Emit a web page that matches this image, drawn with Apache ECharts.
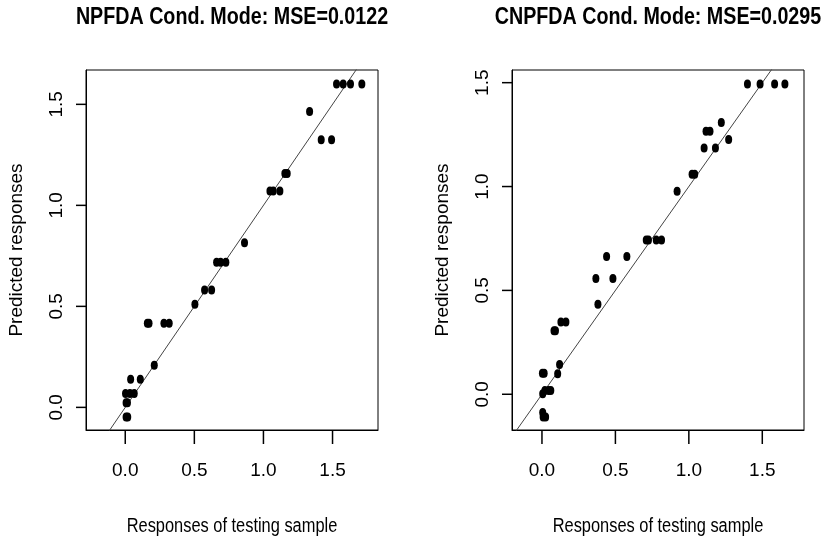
<!DOCTYPE html>
<html>
<head>
<meta charset="utf-8">
<script src="https://cdn.jsdelivr.net/npm/echarts@6/dist/echarts.min.js"></script>
<style>
html,body{margin:0;padding:0;background:#fff;}
#chart{width:827px;height:543px;background:#fff;}
</style>
</head>
<body>
<div id="chart"></div>
<script>
// ---- data ----
const titles = ['NPFDA Cond. Mode: MSE=0.0122', 'CNPFDA Cond. Mode: MSE=0.0295'];
const xAxisName = 'Responses of testing sample';
const yAxisName = 'Predicted responses';
const tickValues = [0, 0.5, 1.0, 1.5];

// NPFDA: observed (x) vs predicted (y)
const npfdaObserved = [1.529,1.577,1.630,1.712,1.334,1.418,1.493,1.155,1.172,1.047,1.071,1.119,0.863,0.661,0.690,0.728,0.574,0.625,0.504,0.160,0.172,0.280,0.318,0.210,0.039,0.109,0.002,0.034,0.065,0.006,0.016,0.006,0.018];
const npfdaPredicted = [1.601,1.601,1.601,1.601,1.464,1.325,1.325,1.158,1.158,1.071,1.071,1.071,0.815,0.718,0.718,0.718,0.581,0.581,0.510,0.416,0.416,0.416,0.416,0.208,0.139,0.139,0.069,0.069,0.069,0.023,0.023,-0.048,-0.048];

// CNPFDA: observed (x) vs predicted (y)
const cnpfdaObserved = [1.399,1.485,1.584,1.654,1.221,1.117,1.144,1.271,1.104,1.181,1.022,1.040,0.920,0.710,0.725,0.778,0.814,0.440,0.578,0.367,0.483,0.381,0.082,0.092,0.129,0.163,0.120,0.107,0.003,0.015,0.005,0.020,0.045,0.060,0.005,0.008,0.025];
const cnpfdaPredicted = [1.494,1.494,1.494,1.494,1.308,1.266,1.266,1.227,1.186,1.186,1.059,1.059,0.977,0.743,0.743,0.743,0.743,0.663,0.663,0.557,0.557,0.433,0.306,0.306,0.348,0.348,0.143,0.099,0.101,0.101,0.003,0.018,0.018,0.018,-0.088,-0.110,-0.110];

// identity reference line y = x
const identityLine = [[-1, -1], [3, 3]];

// axis ranges
const xRanges = [[-0.284, 1.829], [-0.204, 1.784]];
const yRanges = [[-0.112, 1.670], [-0.172, 1.561]];

// ---- chart ----
const regular = "'Liberation Sans', Arial, sans-serif";
const gridLefts = [86, 512];
const plotW = 292, plotH = 360, plotTop = 70;
const narrowScale = 0.82;
const xTickLen = 14, yTickLen = 10;

function pairs(xs, ys) { return xs.map((x, i) => [x, ys[i]]); }

const grids = [], xAxes = [], yAxes = [], series = [], graphics = [];
[0, 1].forEach(i => {
  const cx = gridLefts[i] + plotW / 2;
  grids.push({left: gridLefts[i], top: plotTop, width: plotW, height: plotH,
    show: true, borderColor: '#000', borderWidth: 1});
  graphics.push({type: 'text', x: cx, y: 5, scaleX: narrowScale,
    style: {text: titles[i], fontFamily: regular, fontWeight: 'bold', fontSize: 24, fill: '#000',
      textAlign: 'center', textVerticalAlign: 'top'}});
  graphics.push({type: 'text', x: cx, y: plotTop + plotH + 86, scaleX: narrowScale,
    style: {text: xAxisName, fontFamily: regular, fontSize: 20, fill: '#000',
      textAlign: 'center', textVerticalAlign: 'top'}});
  xAxes.push({type: 'value', gridIndex: i, min: xRanges[i][0], max: xRanges[i][1],
    axisLine: {show: true, onZero: false, lineStyle: {color: '#000', width: 1}},
    axisTick: {show: false},
    axisLabel: {customValues: tickValues, margin: 31, fontFamily: regular, fontSize: 19, color: '#000',
      formatter: v => v.toFixed(1)},
    splitLine: {show: false}});
  yAxes.push({type: 'value', gridIndex: i, min: yRanges[i][0], max: yRanges[i][1],
    name: yAxisName, nameLocation: 'middle', nameRotate: 90, nameGap: 60,
    nameTextStyle: {fontFamily: regular, fontSize: 19, color: '#000'},
    axisLine: {show: true, onZero: false, lineStyle: {color: '#000', width: 1}},
    axisTick: {show: false},
    axisLabel: {customValues: tickValues, rotate: 90, margin: 20, fontFamily: regular, fontSize: 19, color: '#000',
      formatter: v => v.toFixed(1)},
    splitLine: {show: false}});
  series.push({type: 'line', xAxisIndex: i, yAxisIndex: i, data: identityLine, symbol: 'none',
    clip: true, lineStyle: {color: '#444', width: 1}, z: 1});
  // R-style outside ticks, positioned through the axes' scales
  series.push({type: 'custom', xAxisIndex: i, yAxisIndex: i, clip: false, z: 30,
    data: tickValues.map(v => [v, yRanges[i][0]]), encode: {x: 0, y: 1},
    renderItem: (params, api) => {
      const p = api.coord([api.value(0), api.value(1)]);
      return {type: 'line', shape: {x1: p[0], y1: p[1], x2: p[0], y2: p[1] + xTickLen},
        style: {stroke: '#000', lineWidth: 1.5}};
    }});
  series.push({type: 'custom', xAxisIndex: i, yAxisIndex: i, clip: false, z: 30,
    data: tickValues.map(v => [xRanges[i][0], v]), encode: {x: 0, y: 1},
    renderItem: (params, api) => {
      const p = api.coord([api.value(0), api.value(1)]);
      return {type: 'line', shape: {x1: p[0], y1: p[1], x2: p[0] - yTickLen, y2: p[1]},
        style: {stroke: '#000', lineWidth: 1.5}};
    }});
});
series.push({type: 'scatter', xAxisIndex: 0, yAxisIndex: 0, data: pairs(npfdaObserved, npfdaPredicted),
  symbol: 'circle', symbolSize: [7, 9], itemStyle: {color: '#000', opacity: 1}, z: 2});
series.push({type: 'scatter', xAxisIndex: 1, yAxisIndex: 1, data: pairs(cnpfdaObserved, cnpfdaPredicted),
  symbol: 'circle', symbolSize: [7, 9], itemStyle: {color: '#000', opacity: 1}, z: 2});

const chart = echarts.init(document.getElementById('chart'));
chart.setOption({
  animation: false,
  grid: grids,
  xAxis: xAxes,
  yAxis: yAxes,
  series: series,
  graphic: graphics
});
</script>
</body>
</html>
